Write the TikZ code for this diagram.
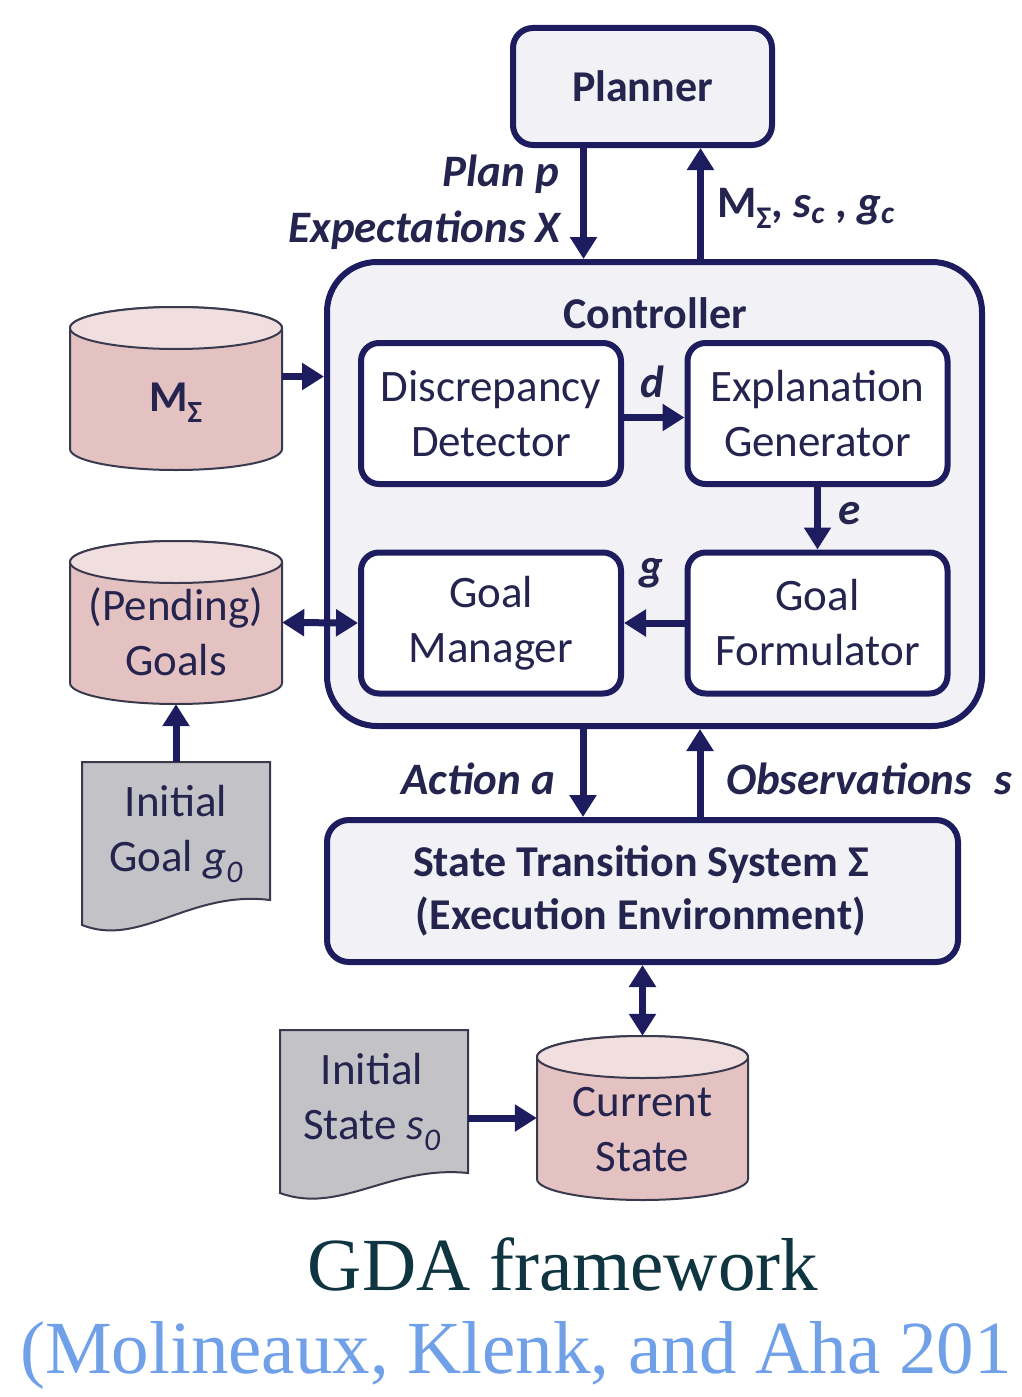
\documentclass[tikz,border=0pt]{standalone}
\usepackage{fontspec}
\setmainfont{Carlito}
\newfontfamily\capfont{Liberation Serif}
\usetikzlibrary{arrows.meta}
\definecolor{navy}{HTML}{1C1C5E}
\definecolor{txt}{HTML}{24244F}
\definecolor{boxfill}{HTML}{F2F2F6}
\definecolor{cylbody}{HTML}{E5C2C2}
\definecolor{cyltop}{HTML}{F1DEDE}
\definecolor{docfill}{HTML}{C3C3C7}
\definecolor{cyledge}{HTML}{3A3A4E}
\definecolor{titlecol}{HTML}{0F3540}
\definecolor{citecol}{HTML}{6FA0E8}
\newcommand\dbcyl[6]{%
  \path[fill=cylbody, draw=cyledge, line width=2pt] (#2,#3+#6) -- (#2,#5-#6)
    arc[start angle=180, end angle=0, x radius={(#4-#2)/2}, y radius=#6] -- (#4,#3+#6)
    arc[start angle=0, end angle=-180, x radius={(#4-#2)/2}, y radius=#6] -- cycle;
  \path[fill=cyltop, draw=cyledge, line width=2pt] ({(#2+#4)/2},#3+#6) ellipse[x radius={(#4-#2)/2}, y radius=#6];
  \node[inner sep=0pt, minimum width={(#4-#2)*1pt}, minimum height={(#5-#3)*1pt}] (#1) at ({(#2+#4)/2},{(#3+#5)/2}) {};
}
\begin{document}
\begin{tikzpicture}[x=1pt,y=-1pt,
  outerbox/.style={draw=navy, line width=6pt, fill=boxfill, inner sep=0pt},
  innerbox/.style={draw=navy, line width=6pt, fill=white, rounded corners=18pt, inner sep=0pt,
     minimum width=260pt, minimum height=141pt, font=\fontsize{45}{55}\selectfont, text=txt, align=center},
  arr/.style={draw=navy, line width=7pt, -{Triangle[length=22pt,width=26pt]}},
  darr/.style={draw=navy, line width=7pt, {Triangle[length=22pt,width=26pt]}-{Triangle[length=22pt,width=26pt]}},
  lbl/.style={font=\fontsize{45}{50}\selectfont\bfseries\itshape, text=txt, inner sep=0pt},
  btxt/.style={font=\fontsize{45}{55}\selectfont, text=txt, align=center, inner sep=0pt},
  bbtxt/.style={font=\fontsize{44}{53}\selectfont\bfseries, text=txt, align=center, inner sep=0pt},
  docstyle/.style={fill=docfill, draw=cyledge, line width=2pt},
]
\useasboundingbox (0,0) rectangle (1022,1397);
\fill[white] (0,0) rectangle (1022,1397);

% Planner
\node[outerbox, rounded corners=20pt, minimum width=259pt, minimum height=117pt] (planner) at (642.5,86.5) {};
\node[bbtxt] (plannertxt) at (planner) {Planner};

% Controller
\node[outerbox, rounded corners=50pt, minimum width=655pt, minimum height=464pt] (ctrl) at (654.5,494) {};
\node[bbtxt] (ctrltxt) at (655,313) {Controller};

\node[innerbox] (dd) at (491,413.5) {Discrepancy\\Detector};
\node[innerbox] (eg) at (817.5,413.5) {Explanation\\Generator};
\node[innerbox] (gm) at (491,623) {Goal\\Manager};
\node[innerbox] (gf) at (817.5,623) {Goal\\Formulator};

% Planner arrows
\draw[arr] ([xshift=-59pt]planner.south) -- ([xshift=-59pt]planner.south |- ctrl.north);
\draw[arr] ([xshift=58pt]planner.south |- ctrl.north) -- ([xshift=58pt]planner.south);
\node[lbl, anchor=base east] (planlbl) at (559,186) {Plan \textit{p}};
\node[lbl, anchor=base east] (explbl) at (561,242) {Expectations \textit{X}};
\node[lbl, anchor=base west, font=\fontsize{45}{50}\selectfont\bfseries] (mlbl) at (717,217) {M\textsubscript{Σ}, \textit{s}\textsubscript{\textit{c}} , \textit{g}\textsubscript{\textit{c}}};

% inner arrows
\draw[arr] ([yshift=-4pt]dd.east) -- ([yshift=-4pt]eg.west);
\node[lbl] (dlbl) at (652,382) {d};
\draw[arr] (eg.south) -- (gf.north);
\node[lbl] (elbl) at (850,514) {e};
\draw[arr] (gf.west) -- (gm.east);
\node[lbl] (glbl) at (651,573) {g};

% Cylinders
\dbcyl{mcyl}{70}{307}{282}{470}{21}
\node[bbtxt] (mtxt) at (176,403) {M\textsubscript{Σ}};
\dbcyl{gcyl}{70}{541}{282}{704}{21}
\node[btxt] (gtxt) at (176,632) {(Pending)\\Goals};
\draw[arr] ([yshift=12pt]mcyl.east) -- ([yshift=12pt]mcyl.east -| ctrl.west);
\draw[darr] (gcyl.east) -- (gm.west);

% Initial goal document
\path[docstyle] (82,762) -- (270,762) -- (270,900) .. controls (190,890) and (140,948) .. (82,925) -- cycle;
\node[inner sep=0pt, minimum width=188pt, minimum height=170pt] (igdoc) at (176,847) {};
\node[btxt] (igtxt) at (176,834) {Initial\\Goal \textit{g}\textsubscript{\textit{0}}};
\draw[arr] (igdoc.north) -- (gcyl.south);

% State transition system
\node[outerbox, rounded corners=22pt, minimum width=631pt, minimum height=142pt] (sts) at (642.5,891) {};
\node[bbtxt] (ststxt) at (641,891) {State Transition System Σ\\(Execution Environment)};
\draw[arr] (583,0 |- ctrl.south) -- (583,0 |- sts.north);
\draw[arr] (700,0 |- sts.north) -- (700,0 |- ctrl.south);
\node[lbl, anchor=base east] (actlbl) at (555,794) {Action \textit{a}};
\node[lbl, anchor=base west] (obslbl) at (726,794) {Observations\hspace{22pt}s};

% Current state
\dbcyl{cscyl}{537}{1036}{748}{1200}{21}
\node[btxt] (cstxt) at (642.5,1130) {Current\\State};
\draw[darr] (sts.south) -- (cscyl.north);

% Initial state document
\path[docstyle] (280,1030) -- (468,1030) -- (468,1173) .. controls (390,1165) and (340,1215) .. (280,1193) -- cycle;
\node[inner sep=0pt, minimum width=188pt, minimum height=170pt] (isdoc) at (374,1115) {};
\node[btxt] (istxt) at (372,1102) {Initial\\State \textit{s}\textsubscript{\textit{0}}};
\draw[arr] (isdoc.east |- cscyl.west) -- (cscyl.west);

% Caption
\node[font=\capfont\fontsize{75}{80}\selectfont, text=titlecol, anchor=base, inner sep=0pt] (title) at (563,1290) {GDA framework};
\node[font=\capfont\fontsize{75}{80}\selectfont, text=citecol, anchor=base west, inner sep=0pt] (cite) at (20,1373) {(Molineaux, Klenk, and Aha 201};
\end{tikzpicture}
\end{document}
